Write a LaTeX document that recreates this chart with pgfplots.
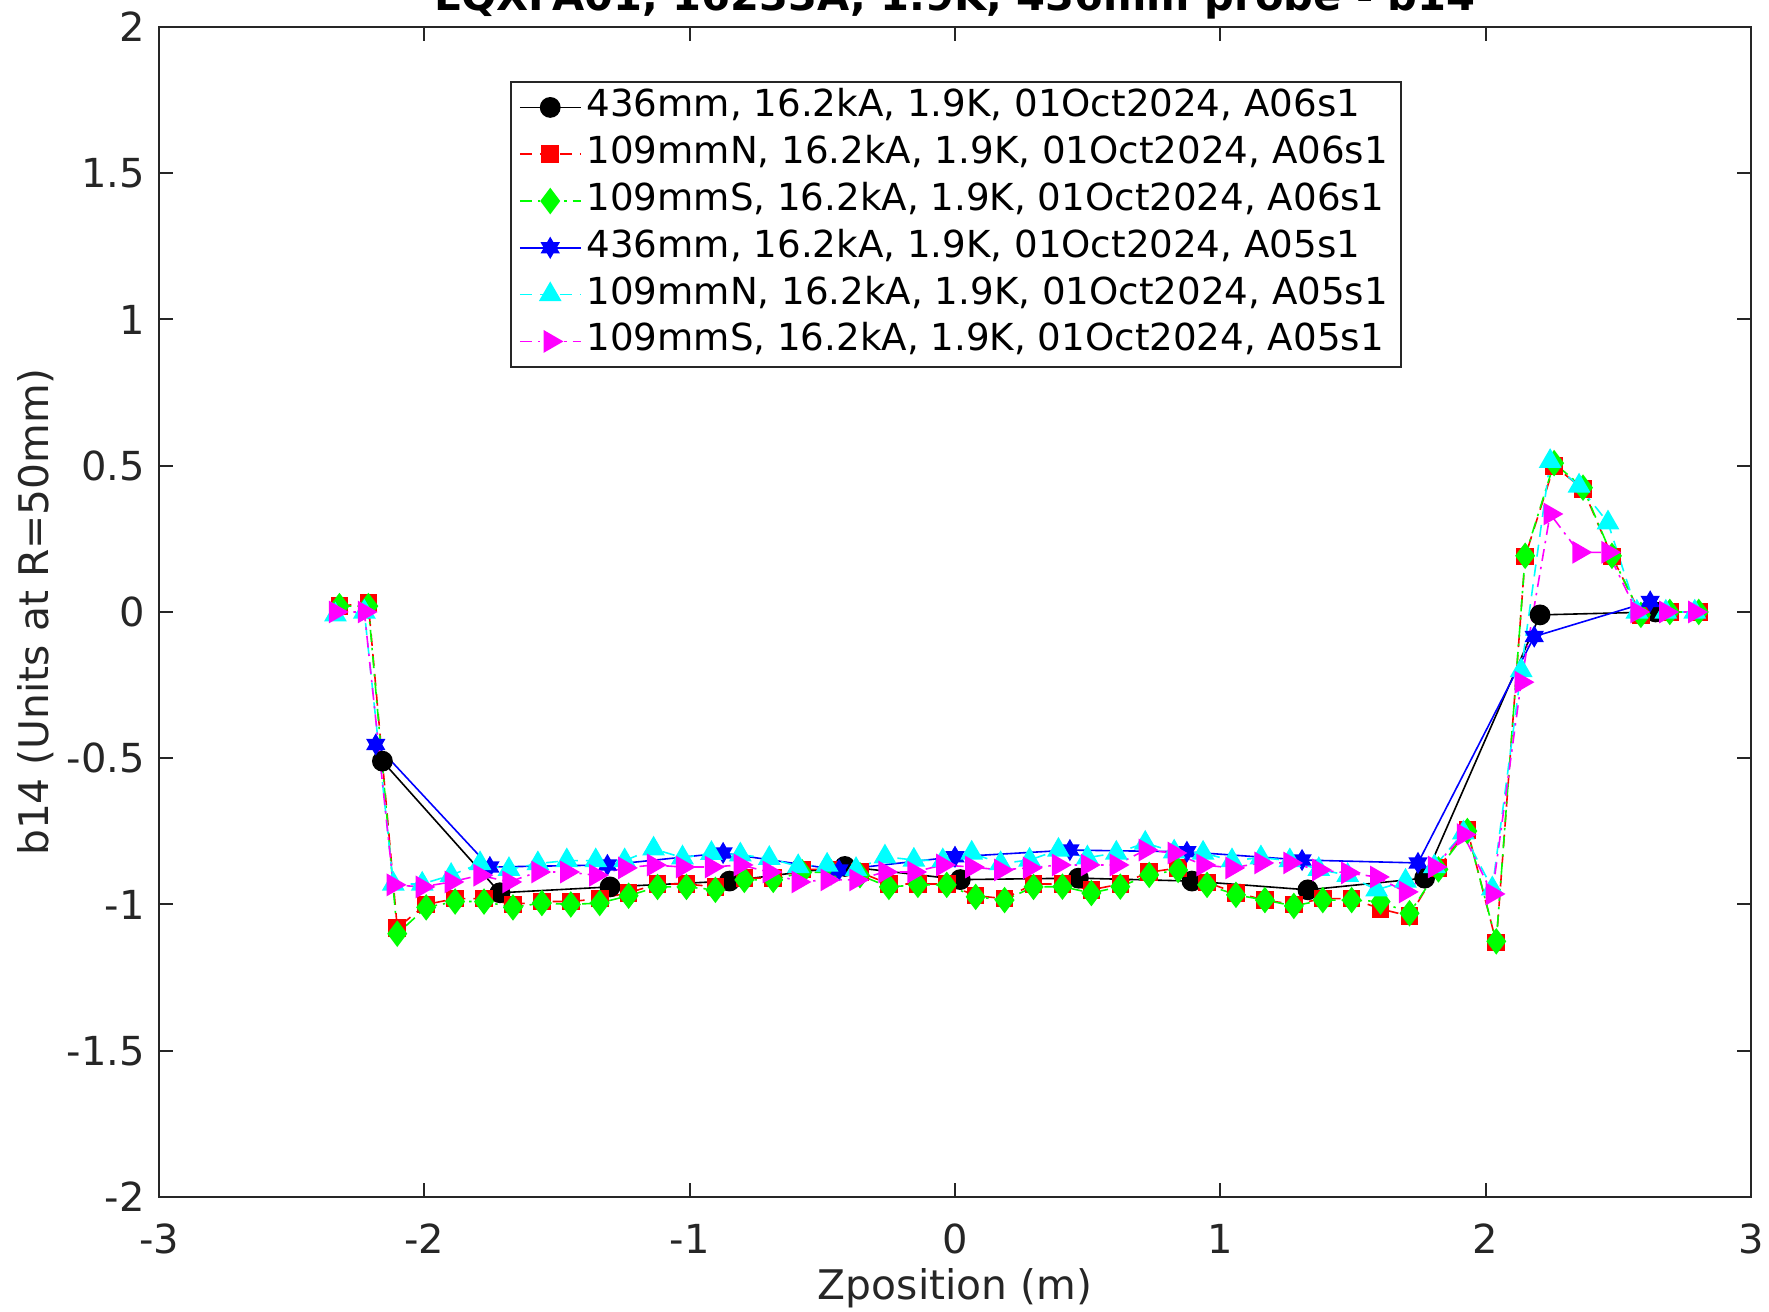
\documentclass[border=0pt]{standalone}
\usepackage{fontspec}
\setmainfont{DejaVu Sans}
\usepackage{pgfplots}
\pgfplotsset{compat=1.18}

\definecolor{mred}{rgb}{1,0,0}
\definecolor{mgreen}{rgb}{0,1,0}
\definecolor{mblue}{rgb}{0,0,1}
\definecolor{mcyan}{rgb}{0,1,1}
\definecolor{mmagenta}{rgb}{1,0,1}

% filled six-point star (matlab 'hexagram')
\pgfdeclareplotmark{hexagram}{%
  \pgfpathmoveto{\pgfqpointpolar{90}{\pgfplotmarksize}}%
  \pgfpathlineto{\pgfqpointpolar{210}{\pgfplotmarksize}}%
  \pgfpathlineto{\pgfqpointpolar{330}{\pgfplotmarksize}}%
  \pgfpathclose
  \pgfpathmoveto{\pgfqpointpolar{270}{\pgfplotmarksize}}%
  \pgfpathlineto{\pgfqpointpolar{30}{\pgfplotmarksize}}%
  \pgfpathlineto{\pgfqpointpolar{150}{\pgfplotmarksize}}%
  \pgfpathclose
  \pgfusepathqfillstroke}

\begin{document}
\begin{tikzpicture}
\begin{axis}[
  scale only axis, width=398pt, height=292.5pt,
  xmin=-3, xmax=3, ymin=-2, ymax=2,
  xtick={-3,-2,-1,0,1,2,3},
  ytick={-2,-1.5,-1,-0.5,0,0.5,1,1.5,2},
  tick align=inside, xtick pos=both, ytick pos=both,
  major tick length=3.5pt,
  axis line style={black!85, line width=0.5pt},
  every tick/.style={black!85, line width=0.5pt},
  /pgf/number format/assume math mode=true,
  tick label style={font=\fontsize{10}{12}\selectfont, text=black!85},
  x tick label style={yshift=-3.3pt},
  xlabel={Zposition (m)},
  ylabel={b14 (Units at R=50mm)},
  label style={font=\fontsize{10.2}{12}\selectfont, text=black!85},
  xlabel style={at={(axis description cs:0.5,-0.0872)}, anchor=base},
  ylabel style={at={(axis description cs:-0.0693,0.5)}, anchor=base},
  title={LQXFA01, 16233A, 1.9K, 436mm probe - b14},
  every axis title/.style={at={(axis description cs:0.5,1)}, anchor=base, yshift=4pt,
    font=\bfseries\fontsize{10.4}{12}\selectfont},
  legend style={at={(0.2205,0.9538)}, anchor=north west,
    font=\fontsize{9.3}{11}\selectfont, draw=black!85, line width=0.5pt,
    inner xsep=2pt, inner ysep=0.5pt,
    nodes={inner xsep=1.3pt, inner ysep=1.2pt, text height=7pt, text depth=2.3pt}},
  legend cell align=left,
  legend image code/.code={\draw[mark repeat=2,mark phase=2]
    plot coordinates {(0pt,0pt) (7.6pt,0pt) (15.2pt,0pt)};},
]

% 436mm A06s1
\addplot[black, line width=0.4pt, mark=*, mark size=2.4pt,
  mark options={solid, fill=black}] coordinates {
  (-2.158,-0.51) (-1.715,-0.96) (-1.300,-0.94) (-0.850,-0.92) (-0.415,-0.87)
  (0.020,-0.915) (0.465,-0.91) (0.893,-0.92) (1.330,-0.95) (1.770,-0.91)
  (2.205,-0.01) (2.640,0.00)};
\addlegendentry{436mm, 16.2kA, 1.9K, 01Oct2024, A06s1}

% 109mmN A06s1
\addplot[mred, line width=0.4pt, dash pattern=on 3pt off 2pt, mark=square*, mark size=2pt,
  mark options={solid, fill=mred}] coordinates {
  (-2.320,0.02) (-2.211,0.03) (-2.102,-1.08) (-1.993,-1.00) (-1.884,-0.98)
  (-1.775,-0.98) (-1.666,-1.00) (-1.557,-0.99) (-1.448,-0.99) (-1.339,-0.98)
  (-1.230,-0.96) (-1.121,-0.93) (-1.012,-0.93) (-0.903,-0.94) (-0.794,-0.91)
  (-0.685,-0.91) (-0.576,-0.88) (-0.467,-0.88) (-0.358,-0.89) (-0.249,-0.93)
  (-0.140,-0.93) (-0.031,-0.93) (0.078,-0.97) (0.187,-0.98) (0.296,-0.93)
  (0.405,-0.93) (0.514,-0.95) (0.623,-0.93) (0.732,-0.89) (0.841,-0.875)
  (0.950,-0.925) (1.059,-0.96) (1.168,-0.985) (1.277,-1.00) (1.386,-0.98)
  (1.495,-0.98) (1.604,-1.015) (1.713,-1.04) (1.822,-0.875) (1.931,-0.745)
  (2.040,-1.13) (2.149,0.19) (2.258,0.50) (2.367,0.42) (2.476,0.19)
  (2.585,-0.01) (2.694,0.00) (2.803,0.00)};
\addlegendentry{109mmN, 16.2kA, 1.9K, 01Oct2024, A06s1}

% 109mmS A06s1
\addplot[mgreen, line width=0.4pt, dash pattern=on 3pt off 1.5pt on 0.6pt off 1.5pt,
  mark=diamond*, mark size=3pt, mark options={solid, fill=mgreen}] coordinates {
  (-2.320,0.02) (-2.211,0.02) (-2.102,-1.10) (-1.993,-1.01) (-1.884,-0.99)
  (-1.775,-0.99) (-1.666,-1.01) (-1.557,-0.995) (-1.448,-1.00) (-1.339,-0.995)
  (-1.230,-0.97) (-1.121,-0.94) (-1.012,-0.94) (-0.903,-0.95) (-0.794,-0.916)
  (-0.685,-0.916) (-0.576,-0.89) (-0.467,-0.89) (-0.358,-0.90) (-0.249,-0.94)
  (-0.140,-0.933) (-0.031,-0.933) (0.078,-0.974) (0.187,-0.985) (0.296,-0.94)
  (0.405,-0.939) (0.514,-0.961) (0.623,-0.939) (0.732,-0.899) (0.841,-0.882)
  (0.950,-0.933) (1.059,-0.967) (1.168,-0.985) (1.277,-1.005) (1.386,-0.985)
  (1.495,-0.985) (1.604,-0.99) (1.713,-1.03) (1.822,-0.88) (1.931,-0.749)
  (2.040,-1.126) (2.149,0.192) (2.258,0.509) (2.367,0.425) (2.476,0.192)
  (2.585,-0.01) (2.694,0.00) (2.803,0.00)};
\addlegendentry{109mmS, 16.2kA, 1.9K, 01Oct2024, A06s1}

% 436mm A05s1
\addplot[mblue, line width=0.4pt, mark=hexagram, mark size=2.4pt,
  mark options={solid, fill=mblue}] coordinates {
  (-2.183,-0.453) (-1.753,-0.872) (-1.310,-0.865) (-0.874,-0.824) (-0.437,-0.882)
  (0.000,-0.837) (0.433,-0.814) (0.874,-0.820) (1.308,-0.848) (1.745,-0.858)
  (2.183,-0.084) (2.620,0.036)};
\addlegendentry{436mm, 16.2kA, 1.9K, 01Oct2024, A05s1}

% 109mmN A05s1
\addplot[mcyan, line width=0.4pt, dash pattern=on 3pt off 2pt, mark=triangle*, mark size=2.9pt,
  mark options={solid, fill=mcyan}] coordinates {
  (-2.335,-0.01) (-2.226,0.00) (-2.117,-0.93) (-2.008,-0.93) (-1.899,-0.90)
  (-1.790,-0.86) (-1.681,-0.88) (-1.572,-0.86) (-1.463,-0.85) (-1.354,-0.85)
  (-1.245,-0.85) (-1.136,-0.81) (-1.027,-0.84) (-0.918,-0.825) (-0.809,-0.83)
  (-0.700,-0.842) (-0.591,-0.87) (-0.482,-0.865) (-0.373,-0.88) (-0.264,-0.837)
  (-0.155,-0.848) (-0.046,-0.85) (0.063,-0.824) (0.172,-0.86) (0.281,-0.848)
  (0.390,-0.814) (0.499,-0.84) (0.608,-0.824) (0.717,-0.79) (0.826,-0.82)
  (0.935,-0.824) (1.044,-0.85) (1.153,-0.84) (1.262,-0.85) (1.371,-0.88)
  (1.480,-0.90) (1.589,-0.95) (1.698,-0.92) (1.807,-0.87) (1.916,-0.755)
  (2.025,-0.946) (2.134,-0.20) (2.243,0.515) (2.352,0.431) (2.461,0.305)
  (2.570,0.00) (2.679,0.00) (2.788,0.00)};
\addlegendentry{109mmN, 16.2kA, 1.9K, 01Oct2024, A05s1}

% 109mmS A05s1
\addplot[mmagenta, line width=0.4pt, dash pattern=on 3pt off 1.5pt on 0.6pt off 1.5pt,
  mark=triangle*, mark size=2.9pt, mark options={solid, fill=mmagenta, rotate=-90}] coordinates {
  (-2.335,0.00) (-2.226,0.00) (-2.117,-0.933) (-2.008,-0.94) (-1.899,-0.923)
  (-1.790,-0.90) (-1.681,-0.923) (-1.572,-0.889) (-1.463,-0.889) (-1.354,-0.90)
  (-1.245,-0.875) (-1.136,-0.865) (-1.027,-0.872) (-0.918,-0.872) (-0.809,-0.865)
  (-0.700,-0.889) (-0.591,-0.923) (-0.482,-0.916) (-0.373,-0.916) (-0.264,-0.889)
  (-0.155,-0.889) (-0.046,-0.865) (0.063,-0.872) (0.172,-0.882) (0.281,-0.875)
  (0.390,-0.865) (0.499,-0.865) (0.608,-0.865) (0.717,-0.814) (0.826,-0.824)
  (0.935,-0.865) (1.044,-0.875) (1.153,-0.858) (1.262,-0.858) (1.371,-0.882)
  (1.480,-0.892) (1.589,-0.906) (1.698,-0.957) (1.807,-0.872) (1.916,-0.761)
  (2.025,-0.964) (2.134,-0.24) (2.243,0.335) (2.352,0.204) (2.461,0.204)
  (2.570,0.00) (2.679,0.00) (2.788,0.00)};
\addlegendentry{109mmS, 16.2kA, 1.9K, 01Oct2024, A05s1}

\end{axis}
\pgfresetboundingbox
\path[use as bounding box] (-39.75pt,-28.75pt) rectangle (402.5pt,299.25pt);
\end{tikzpicture}
\end{document}
